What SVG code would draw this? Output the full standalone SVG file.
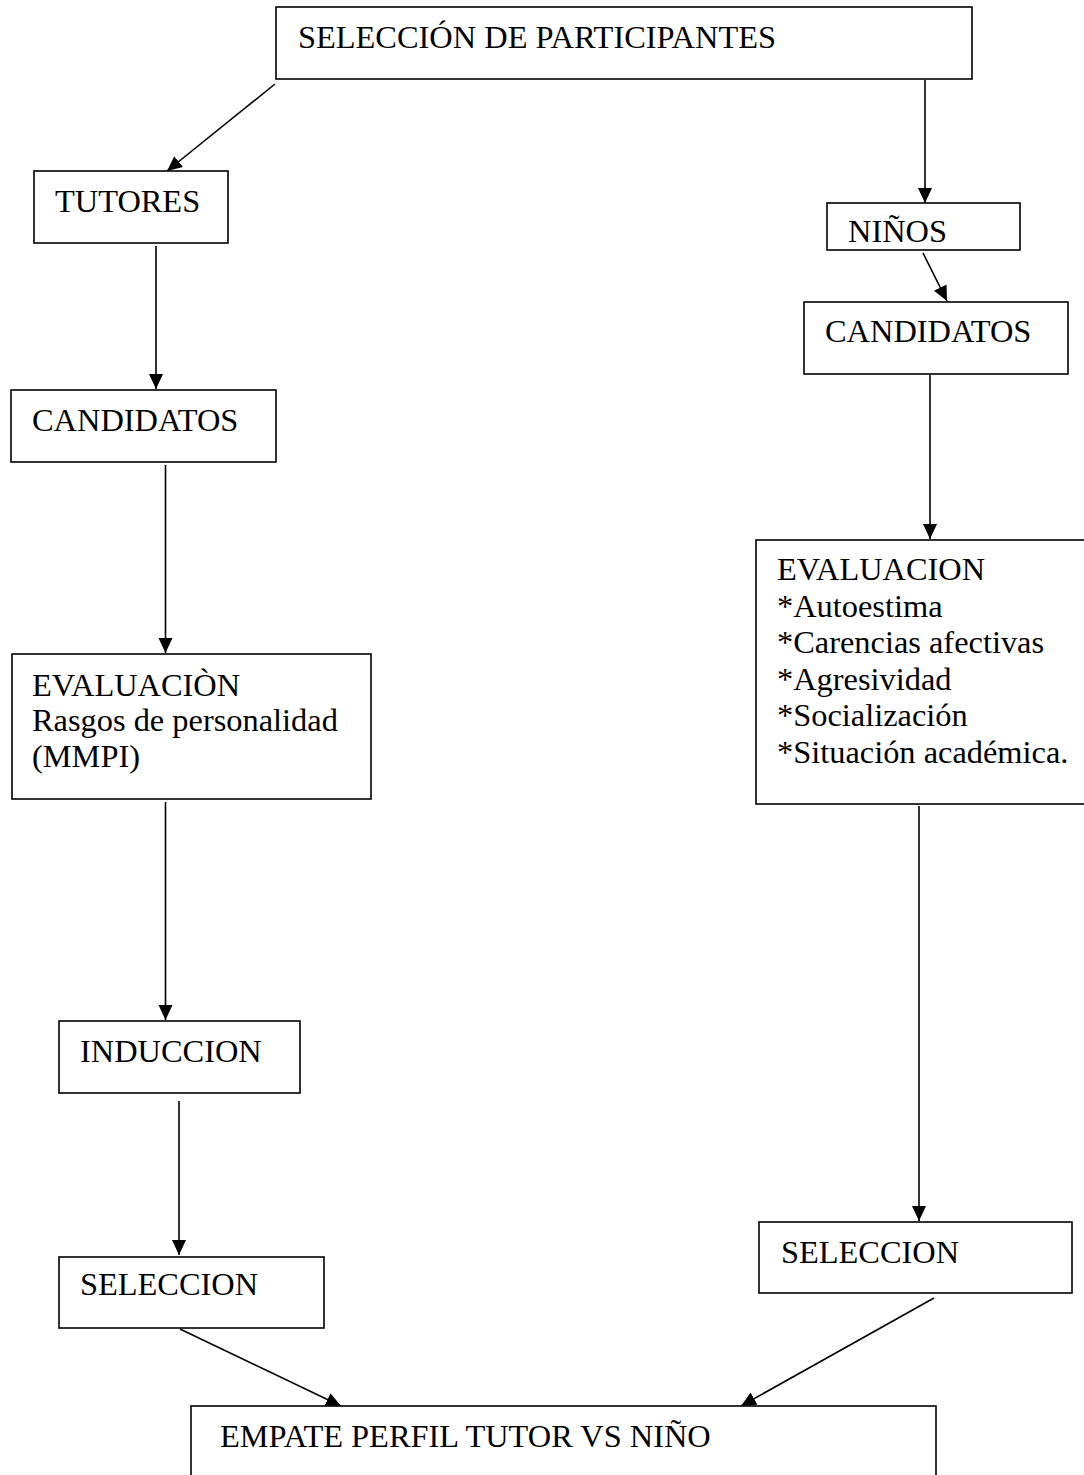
<svg xmlns="http://www.w3.org/2000/svg" width="1084" height="1475" viewBox="0 0 1084 1475">
<style>
.box{fill:#fff;stroke:#000;stroke-width:1.6}
.t{font-family:"Liberation Serif","Times New Roman",serif;font-size:32.4px;fill:#000}
.c{stroke:#000;stroke-width:1.6;fill:none;marker-end:url(#ah)}
</style>
<defs>
<marker id="ah" markerUnits="userSpaceOnUse" markerWidth="16" markerHeight="15" refX="15" refY="7" orient="auto">
<path d="M0,0 L15,7 L0,14 z" fill="#000"/>
</marker>
<clipPath id="nclip"><rect x="827" y="204" width="192" height="38"/></clipPath>
</defs>
<g id="connectors">
<line class="c" x1="275" y1="84" x2="167" y2="171"/>
<line class="c" x1="925" y1="80" x2="925" y2="203"/>
<line class="c" x1="923" y1="253" x2="947" y2="301"/>
<line class="c" x1="156" y1="246" x2="156" y2="389"/>
<line class="c" x1="165.5" y1="465" x2="165.5" y2="653"/>
<line class="c" x1="165.5" y1="802" x2="165.5" y2="1020"/>
<line class="c" x1="179" y1="1101" x2="179" y2="1255"/>
<line class="c" x1="930" y1="375" x2="930" y2="539"/>
<line class="c" x1="919" y1="806" x2="919" y2="1221"/>
<line class="c" x1="180" y1="1329" x2="341" y2="1406"/>
<line class="c" x1="934" y1="1298" x2="741" y2="1406"/>
</g>
<g id="n-seleccion-participantes">
<rect class="box" x="276" y="7" width="696" height="72"/>
<text class="t" x="298" y="48">SELECCIÓN DE PARTICIPANTES</text>
</g>
<g id="n-tutores">
<rect class="box" x="34" y="171" width="194" height="72"/>
<text class="t" x="55" y="212">TUTORES</text>
</g>
<g id="n-ninos">
<rect class="box" x="827" y="203" width="193" height="47"/>
<text class="t" x="848" y="242" clip-path="url(#nclip)">NIÑOS</text>
</g>
<g id="n-candidatos-der">
<rect class="box" x="804" y="302" width="264" height="72"/>
<text class="t" x="825" y="342">CANDIDATOS</text>
</g>
<g id="n-candidatos-izq">
<rect class="box" x="11" y="390" width="265" height="72"/>
<text class="t" x="32" y="431">CANDIDATOS</text>
</g>
<g id="n-evaluacion-izq">
<rect class="box" x="12" y="654" width="359" height="145"/>
<text class="t" x="32" y="696">EVALUACIÒN</text>
<text class="t" x="32" y="731">Rasgos de personalidad</text>
<text class="t" x="32" y="767">(MMPI)</text>
</g>
<g id="n-evaluacion-der">
<rect class="box" x="756" y="540" width="340" height="264"/>
<text class="t" x="777" y="580">EVALUACION</text>
<text class="t" x="777" y="616.5">*Autoestima</text>
<text class="t" x="777" y="653">*Carencias afectivas</text>
<text class="t" x="777" y="689.5">*Agresividad</text>
<text class="t" x="777" y="726">*Socialización</text>
<text class="t" x="777" y="762.5">*Situación académica.</text>
</g>
<g id="n-induccion">
<rect class="box" x="59" y="1021" width="241" height="72"/>
<text class="t" x="80" y="1062">INDUCCION</text>
</g>
<g id="n-seleccion-izq">
<rect class="box" x="59" y="1257" width="265" height="71"/>
<text class="t" x="80" y="1295">SELECCION</text>
</g>
<g id="n-seleccion-der">
<rect class="box" x="759" y="1222" width="313" height="71"/>
<text class="t" x="781" y="1263">SELECCION</text>
</g>
<g id="n-empate">
<rect class="box" x="191" y="1406" width="745" height="100"/>
<text class="t" x="220" y="1447">EMPATE PERFIL TUTOR VS NIÑO</text>
</g>
</svg>
